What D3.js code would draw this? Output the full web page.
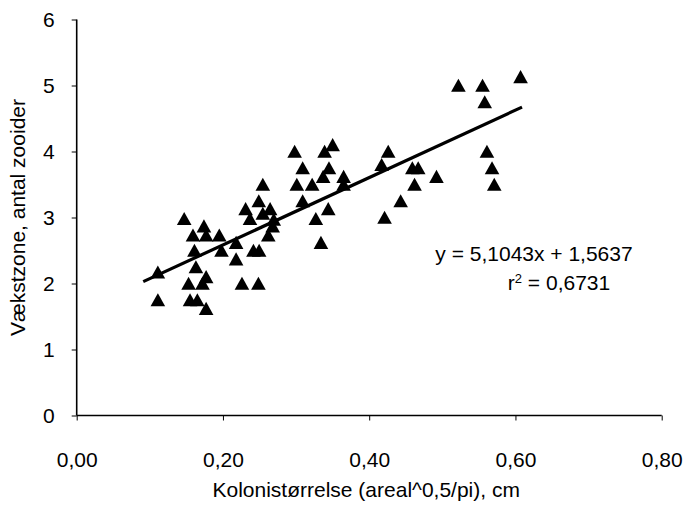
<!DOCTYPE html>
<html>
<head>
<meta charset="utf-8">
<script src="https://cdn.jsdelivr.net/npm/d3@7"></script>
<style>
  html, body { margin: 0; padding: 0; background: #fff; }
  svg text { font-family: "Liberation Sans", Arial, Helvetica, sans-serif; fill: #000; }
</style>
</head>
<body>
<svg id="chart" width="689" height="508"></svg>
<script>
// Colony size (x) and growth zone size (y) for each colony
const colonySize = [
  0.522, 0.555, 0.558, 0.607, 0.561, 0.568, 0.571, 0.426, 0.417, 0.459,
  0.467, 0.492, 0.462, 0.443, 0.421, 0.298, 0.339, 0.350, 0.309, 0.345,
  0.337, 0.365, 0.365, 0.301, 0.322, 0.2545, 0.309, 0.249, 0.231, 0.2645,
  0.2545, 0.344, 0.147, 0.237, 0.327, 0.2695, 0.268, 0.174, 0.159, 0.177,
  0.195, 0.262, 0.198, 0.218, 0.218, 0.161, 0.2417, 0.2495, 0.163, 0.177,
  0.111, 0.153, 0.172, 0.226, 0.2485, 0.111, 0.155, 0.165, 0.177, 0.334
];
const growthZone = [
  5.0, 5.0, 4.75, 5.13, 4.0, 3.75, 3.5, 4.0, 3.8, 3.75,
  3.75, 3.62, 3.5, 3.25, 3.0, 4.0, 4.0, 4.1, 3.75, 3.75,
  3.62, 3.62, 3.5, 3.5, 3.5, 3.5, 3.25, 3.25, 3.13, 3.13,
  3.06, 3.13, 2.98, 2.98, 2.98, 2.97, 2.87, 2.87, 2.73, 2.73,
  2.73, 2.73, 2.5, 2.62, 2.37, 2.5, 2.5, 2.5, 2.25, 2.1,
  2.17, 2.0, 2.0, 2.0, 2.0, 1.75, 1.75, 1.75, 1.62, 2.62
];

// Linear trend line y = slope * x + intercept
const slope = 5.1043;
const intercept = 1.5637;
const rSquared = 0.6731;
const trendRange = [0.091, 0.609];

const xTicks = [0, 0.2, 0.4, 0.6, 0.8];
const yTicks = [0, 1, 2, 3, 4, 5, 6];
const xTitle = "Kolonistørrelse (areal^0,5/pi), cm";
const yTitle = "Vækstzone, antal zooider";

const svg = d3.select("#chart");
const fontSize = 21;

const x = d3.scaleLinear().domain([0, 0.8]).range([76.7, 661.7]);
const y = d3.scaleLinear().domain([0, 6]).range([415.5, 19.5]);

const comma = d => d.toFixed(2).replace(".", ",");

// Axes
const yAxis = svg.append("g")
  .attr("transform", `translate(${x(0)},0)`)
  .call(d3.axisLeft(y).tickValues(yTicks).tickSize(5).tickPadding(17).tickFormat(d => String(d)));
const xAxis = svg.append("g")
  .attr("transform", `translate(0,${y(0)})`)
  .call(d3.axisBottom(x).tickValues(xTicks).tickSize(5).tickPadding(32).tickFormat(comma));

[yAxis, xAxis].forEach(g => {
  g.select(".domain").attr("stroke", "#000").attr("stroke-width", 1.6);
  g.selectAll(".tick line").attr("stroke", "#000").attr("stroke-width", 1);
  g.selectAll(".tick text").attr("font-size", fontSize).attr("font-family", null);
});
xAxis.select(".domain").attr("d", `M${x(0)},0H${x(0.8)}`);
yAxis.select(".domain").attr("d", `M0,${y(6)}V${y(0)}`);

// Axis titles
svg.append("text")
  .attr("x", (x(0) + x(0.8)) / 2 - 3)
  .attr("y", 497)
  .attr("text-anchor", "middle")
  .attr("font-size", fontSize)
  .text(xTitle);
svg.append("text")
  .attr("transform", `translate(25,${(y(0) + y(6)) / 2}) rotate(-90)`)
  .attr("text-anchor", "middle")
  .attr("font-size", fontSize)
  .text(yTitle);

// Trend line
svg.append("line")
  .attr("x1", x(trendRange[0])).attr("y1", y(slope * trendRange[0] + intercept))
  .attr("x2", x(trendRange[1])).attr("y2", y(slope * trendRange[1] + intercept))
  .attr("stroke", "#000").attr("stroke-width", 3.2);

// Triangle markers
const tri = "M0,-6.8L7.3,6.3L-7.3,6.3Z";
svg.append("g").selectAll("path")
  .data(d3.zip(colonySize, growthZone))
  .join("path")
  .attr("d", tri)
  .attr("transform", d => `translate(${x(d[0])},${y(d[1])})`)
  .attr("fill", "#000");

// Regression equation and coefficient of determination
const fmt4 = v => v.toFixed(4).replace(".", ",");
svg.append("text")
  .attr("x", 534).attr("y", 261)
  .attr("text-anchor", "middle")
  .attr("font-size", fontSize)
  .text(`y = ${fmt4(slope)}x + ${fmt4(intercept)}`);
const r2 = svg.append("text")
  .attr("x", 559).attr("y", 290)
  .attr("text-anchor", "middle")
  .attr("font-size", fontSize);
r2.append("tspan").text("r");
r2.append("tspan").attr("font-size", fontSize * 0.62).attr("dy", -7).text("2");
r2.append("tspan").attr("dy", 7).text(` = ${fmt4(rSquared)}`);
</script>
</body>
</html>
